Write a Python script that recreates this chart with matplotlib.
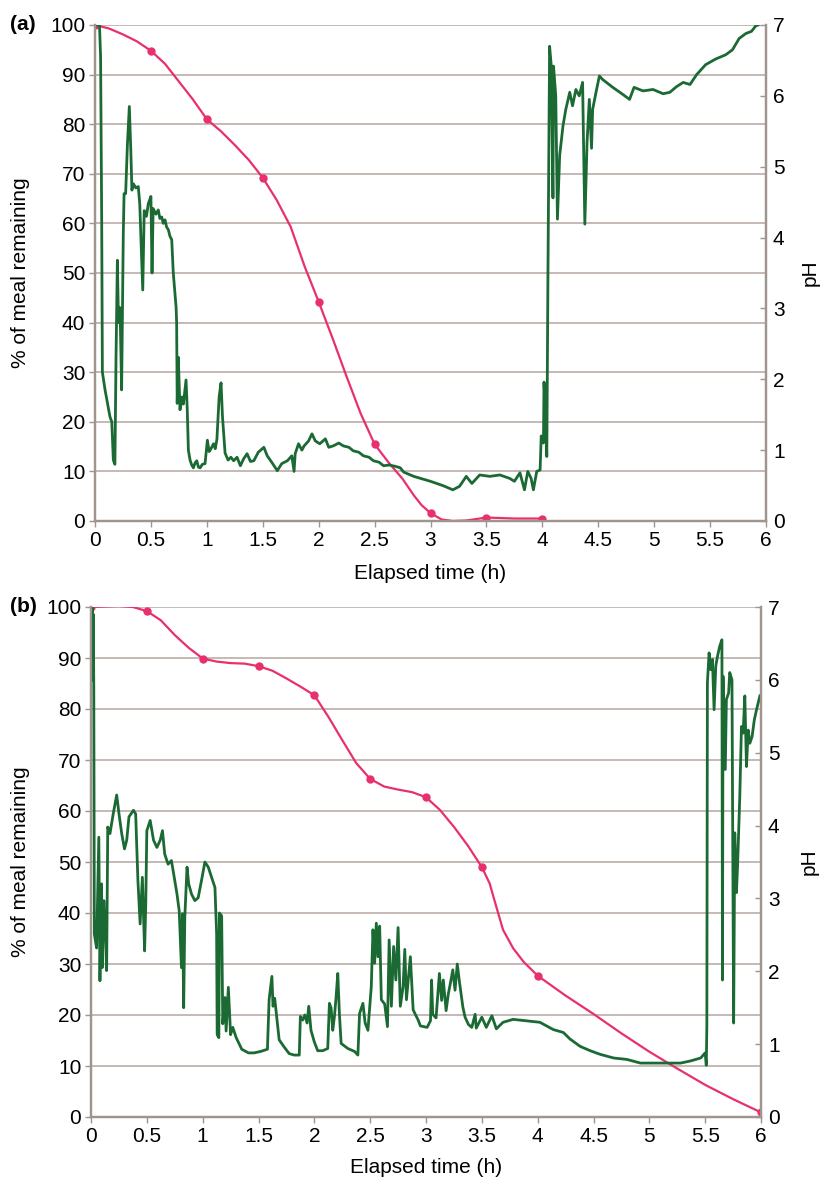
import matplotlib
matplotlib.use("Agg")
import matplotlib.pyplot as plt

plt.rcParams['font.family'] = ['Liberation Sans', 'DejaVu Sans']
plt.rcParams['font.size'] = 15

# ---- panel (a) : meal emptying (% remaining), measured every 0.5 h
meal_a_t = [0, 0.5, 1, 1.5, 2, 2.5, 3, 3.5, 4]
meal_a_pct = [100, 94.8, 81, 69.2, 44.2, 15.5, 1.6, 0.7, 0.5]
# smoothed curve
curve_a_t = [0, 0.125, 0.25, 0.375, 0.5, 0.625, 0.75, 0.875, 1, 1.125, 1.25, 1.375,
             1.5, 1.625, 1.75, 1.875, 2, 2.125, 2.25, 2.375, 2.5, 2.625, 2.75,
             2.85, 2.92, 3, 3.1, 3.2, 3.32, 3.5, 3.75, 4]
curve_a_pct = [100, 99.3, 98.1, 96.7, 94.8, 92.2, 88.6, 85, 81, 78.6, 75.8, 72.8,
               69.2, 64.7, 59.3, 51.3, 44.2, 36.8, 29.1, 21.7, 15.5, 11.8, 8.5,
               5.2, 3.2, 1.6, 0.3, 0.0, 0.1, 0.7, 0.5, 0.5]

# ---- panel (a) : pH trace
ph_a_t = [0.0, 0.04, 0.05, 0.06, 0.066, 0.09, 0.134, 0.15, 0.164, 0.178, 0.188, 0.20,
          0.21, 0.224, 0.238, 0.253, 0.26, 0.274, 0.29, 0.307, 0.32, 0.33, 0.343,
          0.365, 0.387, 0.40, 0.427, 0.44, 0.46, 0.477, 0.50, 0.51, 0.52, 0.545,
          0.566, 0.58, 0.597, 0.61, 0.626, 0.64, 0.656, 0.67, 0.686, 0.70, 0.725, 0.73,
          0.735, 0.745, 0.76, 0.778, 0.79, 0.814, 0.825, 0.835, 0.85, 0.865, 0.88,
          0.895, 0.91, 0.925, 0.94, 0.96, 0.984, 1.005, 1.02, 1.03, 1.06, 1.075, 1.09,
          1.11, 1.127, 1.14, 1.163, 1.19, 1.215, 1.24, 1.27, 1.30, 1.33, 1.36, 1.39,
          1.42, 1.46, 1.51, 1.54, 1.58, 1.63, 1.67, 1.72, 1.76, 1.78, 1.79, 1.82,
          1.85, 1.87, 1.91, 1.94, 1.97, 2.01, 2.06, 2.09, 2.13, 2.18, 2.22, 2.27,
          2.31, 2.36, 2.40, 2.45, 2.49, 2.54, 2.58, 2.63, 2.69, 2.73, 2.76, 2.85,
          3.0, 3.11, 3.20, 3.26, 3.32, 3.37, 3.44, 3.53, 3.62, 3.71, 3.75, 3.80,
          3.84, 3.87, 3.90, 3.92, 3.95, 3.98, 3.99, 4.01, 4.015, 4.03, 4.04, 4.05,
          4.065, 4.08, 4.095, 4.10, 4.12, 4.135, 4.155, 4.185, 4.21, 4.245, 4.27,
          4.30, 4.33, 4.36, 4.38, 4.40, 4.42, 4.44, 4.45, 4.48, 4.51, 4.54, 4.63,
          4.72, 4.78, 4.82, 4.90, 4.99, 5.08, 5.14, 5.20, 5.26, 5.32, 5.38, 5.46,
          5.55, 5.64, 5.70, 5.76, 5.82, 5.87, 5.91, 5.93]
ph_a_val = [7.0, 7.0, 6.55, 4.2, 2.1, 1.85, 1.47, 1.40, 0.86, 0.80, 2.31, 3.68,
            2.8, 3.01, 1.85, 4.06, 4.62, 4.62, 5.32, 5.85, 5.24, 4.67, 4.76,
            4.70, 4.72, 4.48, 3.26, 4.38, 4.30, 4.48, 4.58, 3.5, 4.41, 4.33,
            4.39, 4.27, 4.29, 4.20, 4.25, 4.15, 4.11, 4.02, 3.97, 3.5, 3.02, 2.8,
            1.66, 2.31, 1.57, 1.75, 1.65, 1.99, 1.57, 1.0, 0.86, 0.79, 0.75,
            0.82, 0.85, 0.76, 0.75, 0.80, 0.81, 1.14, 0.98, 1.0, 1.09, 1.02, 1.15,
            1.75, 1.95, 1.47, 0.96, 0.86, 0.90, 0.85, 0.90, 0.78, 0.88, 0.95, 0.84,
            0.85, 0.97, 1.04, 0.92, 0.83, 0.71, 0.81, 0.85, 0.92, 0.70, 0.95, 1.09,
            1.00, 1.06, 1.13, 1.23, 1.13, 1.09, 1.16, 1.04, 1.06, 1.10, 1.06, 1.04,
            0.99, 0.97, 0.92, 0.90, 0.85, 0.83, 0.78, 0.79, 0.77, 0.75, 0.69, 0.63,
            0.56, 0.50, 0.44, 0.49, 0.63, 0.53, 0.65, 0.63, 0.65, 0.60, 0.56, 0.68,
            0.44, 0.70, 0.60, 0.44, 0.70, 0.72, 1.2, 1.1, 1.96, 1.39, 0.91, 3.44,
            6.70, 6.42, 4.56, 6.42, 6.0, 4.26, 5.16, 5.58, 5.81, 6.05, 5.86,
            6.09, 6.0, 6.19, 4.19, 5.35, 5.95, 5.26, 5.81, 6.05, 6.28, 6.23, 6.12,
            6.02, 5.95, 6.12, 6.07, 6.09, 6.03, 6.05, 6.13, 6.19, 6.16, 6.30, 6.44,
            6.52, 6.58, 6.65, 6.81, 6.88, 6.91, 6.99, 7.0]

# ---- panel (b) : meal emptying
meal_b_t = [0, 0.5, 1, 1.5, 2, 2.5, 3, 3.5, 4, 6]
meal_b_pct = [100, 99.2, 89.9, 88.4, 82.7, 66.3, 62.7, 49.0, 27.7, 0.9]
curve_b_t = [0, 0.125, 0.25, 0.375, 0.5, 0.625, 0.75, 0.875, 1, 1.125, 1.25, 1.375,
             1.5, 1.625, 1.75, 1.875, 2, 2.125, 2.25, 2.375, 2.5, 2.625, 2.75, 2.875,
             3, 3.125, 3.25, 3.375, 3.5, 3.57, 3.63, 3.69, 3.78, 3.875, 4, 4.25, 4.5,
             4.75, 5, 5.25, 5.5, 5.75, 6]
curve_b_pct = [100, 100.1, 100.2, 100, 99.2, 97.4, 94.5, 92, 89.9, 89.3, 89.0, 88.9,
               88.4, 87.5, 86.0, 84.4, 82.7, 78.5, 73.9, 69.4, 66.3, 64.8, 64.2, 63.7,
               62.7, 60.2, 56.9, 53.2, 49.0, 45.8, 41.2, 36.7, 33.1, 30.4, 27.7, 23.8,
               20.2, 16.4, 12.8, 9.5, 6.3, 3.5, 0.9]

# ---- panel (b) : pH trace
ph_b_t = [0.0, 0.008, 0.011, 0.014, 0.017, 0.02, 0.025, 0.03, 0.05, 0.07, 0.08, 0.094,
          0.10, 0.115, 0.13, 0.14, 0.15, 0.17, 0.20, 0.23, 0.25, 0.275, 0.30, 0.32,
          0.34, 0.38, 0.40, 0.42, 0.44, 0.46, 0.48, 0.49, 0.50, 0.53, 0.56, 0.59,
          0.62, 0.64, 0.66, 0.69, 0.72, 0.74, 0.77, 0.79, 0.81, 0.82, 0.83, 0.84,
          0.86, 0.875, 0.90, 0.93, 0.96, 0.99, 1.02, 1.05, 1.08, 1.11, 1.125, 1.13,
          1.145, 1.15, 1.17, 1.18, 1.20, 1.21, 1.23, 1.25, 1.27, 1.30, 1.35, 1.41,
          1.46, 1.52, 1.58, 1.595, 1.62, 1.63, 1.645, 1.66, 1.685, 1.73, 1.775, 1.82,
          1.865, 1.875, 1.895, 1.915, 1.935, 1.95, 1.97, 2.0, 2.03, 2.075, 2.12, 2.135,
          2.15, 2.165, 2.18, 2.195, 2.21, 2.225, 2.24, 2.30, 2.36, 2.39, 2.405, 2.435,
          2.455, 2.48, 2.51, 2.525, 2.54, 2.555, 2.57, 2.585, 2.60, 2.63, 2.655, 2.67,
          2.69, 2.71, 2.73, 2.75, 2.77, 2.795, 2.81, 2.825, 2.86, 2.885, 2.93, 2.95,
          3.01, 3.04, 3.05, 3.06, 3.09, 3.12, 3.14, 3.155, 3.18, 3.20, 3.22, 3.24,
          3.26, 3.28, 3.30, 3.33, 3.35, 3.38, 3.41, 3.44, 3.45, 3.50, 3.54, 3.59,
          3.63, 3.69, 3.78, 3.90, 4.02, 4.08, 4.14, 4.23, 4.29, 4.38, 4.47, 4.56,
          4.68, 4.80, 4.92, 5.04, 5.16, 5.28, 5.37, 5.46, 5.50, 5.51, 5.515, 5.52,
          5.535, 5.55, 5.565, 5.58, 5.595, 5.61, 5.63, 5.65, 5.655, 5.66, 5.68, 5.69,
          5.71, 5.72, 5.74, 5.755, 5.765, 5.78, 5.79, 5.81, 5.825, 5.84, 5.855, 5.87,
          5.885, 5.90, 5.92, 5.94, 5.96, 5.99]
ph_b_val = [7.0, 7.0, 6.0, 7.0, 6.0, 6.9, 5.9, 2.51, 2.32, 3.84, 1.87, 3.2,
            2.05, 2.97, 2.46, 2.01, 3.98, 3.89, 4.17, 4.42, 4.17, 3.89, 3.68, 3.8,
            4.12, 4.21, 4.16, 3.25, 2.65, 3.29, 2.28, 2.9, 3.93, 4.07, 3.8, 3.7,
            3.8, 3.93, 3.61, 3.47, 3.52, 3.34, 3.06, 2.83, 2.05, 2.79, 1.5, 2.74,
            3.43, 3.2, 3.06, 2.97, 3.01, 3.25, 3.5, 3.43, 3.29, 3.15, 2.51, 1.13,
            1.09, 2.8, 2.76, 1.28, 1.64, 1.18, 1.78, 1.13, 1.23, 1.09, 0.93, 0.88,
            0.88, 0.90, 0.93, 1.61, 1.93, 1.52, 1.63, 1.42, 1.06, 0.96, 0.87, 0.85,
            0.85, 1.38, 1.33, 1.40, 1.29, 1.52, 1.19, 1.03, 0.91, 0.91, 0.94, 1.56,
            1.50, 1.19, 1.38, 1.65, 1.97, 1.40, 1.01, 0.94, 0.90, 0.85, 1.42, 1.56,
            1.29, 1.19, 1.79, 2.57, 2.11, 2.66, 2.2, 2.62, 1.61, 1.55, 1.24, 2.43,
            1.52, 2.34, 1.88, 2.6, 1.52, 1.79, 2.30, 1.61, 2.2, 1.47, 1.33, 1.25,
            1.23, 1.32, 1.88, 1.41, 1.36, 1.97, 1.6, 1.88, 1.46, 1.69, 1.85, 2.02,
            1.74, 2.1, 1.85, 1.51, 1.37, 1.27, 1.23, 1.41, 1.22, 1.37, 1.23, 1.39,
            1.21, 1.30, 1.34, 1.32, 1.30, 1.25, 1.20, 1.16, 1.07, 0.97, 0.91, 0.86,
            0.81, 0.79, 0.74, 0.74, 0.74, 0.74, 0.77, 0.81, 0.88, 0.71, 1.24, 5.96,
            6.37, 6.14, 6.28, 5.59, 6.19, 6.32, 6.46, 6.55, 1.88, 6.05, 4.77, 5.73,
            5.82, 6.1, 6.0, 1.29, 3.90, 3.08, 3.44, 4.4, 5.36, 5.27, 5.78, 4.81,
            5.31, 5.13, 5.22, 5.45, 5.59, 5.78]

PINK = '#e8306c'
GREEN = '#1b6a33'
GRID = '#c4b9b4'
SPINE = '#a0948f'


def draw_panel(rect, tag, meal_t, meal_pct, curve_t, curve_pct, ph_t, ph_val, ylab_x, ph_x, xlab_y):
    ax = fig.add_axes(rect)
    ax2 = ax.twinx()

    ax.plot(curve_t, curve_pct, color=PINK, lw=1.6, zorder=3)
    ax.plot(meal_t, meal_pct, 'o', color=PINK, ms=5, zorder=4)
    ax2.plot(ph_t, ph_val, color=GREEN, lw=2)

    ax.set_xlim(0, 6)
    ax.set_ylim(0, 100)
    ax2.set_ylim(0, 7)
    ax.set_xticks([i * 0.5 for i in range(13)])
    ax.set_xticklabels(['0', '0.5', '1', '1.5', '2', '2.5', '3', '3.5', '4', '4.5', '5', '5.5', '6'])
    ax.set_yticks(range(0, 101, 10))
    ax2.set_yticks(range(0, 8))

    ax.yaxis.grid(True, color=GRID, lw=1.4)
    ax.set_axisbelow(True)

    for a in (ax, ax2):
        a.spines['top'].set_visible(False)
        for s in ('left', 'right', 'bottom'):
            a.spines[s].set_color(SPINE)
            a.spines[s].set_linewidth(1.6)
    ax.tick_params(axis='both', direction='out', length=4, width=1, color=SPINE, pad=3)
    ax2.tick_params(axis='y', direction='in', length=4, width=1, color=SPINE, pad=5)

    ax.set_xlabel('Elapsed time (h)')
    ax.xaxis.set_label_coords(0.5, xlab_y)
    ax.set_ylabel('% of meal remaining')
    ax.yaxis.set_label_coords(ylab_x, 0.5)
    ax2.set_ylabel('pH')
    ax2.yaxis.set_label_coords(ph_x, 0.5)

    fig.text(0.012, rect[1] + rect[3], tag, weight='bold', va='center', ha='left')
    return ax


fig = plt.figure(figsize=(8.21, 11.80), dpi=100)

draw_panel([95 / 821, 1 - 521 / 1180, 671 / 821, 496 / 1180], '(a)',
           meal_a_t, meal_a_pct, curve_a_t, curve_a_pct, ph_a_t, ph_a_val,
           -0.097, 1.051, -0.087)
draw_panel([91 / 821, 1 - 1117 / 1180, 670 / 821, 510 / 1180], '(b)',
           meal_b_t, meal_b_pct, curve_b_t, curve_b_pct, ph_b_t, ph_b_val,
           -0.091, 1.058, -0.080)

fig.savefig('out.png', dpi=100)
